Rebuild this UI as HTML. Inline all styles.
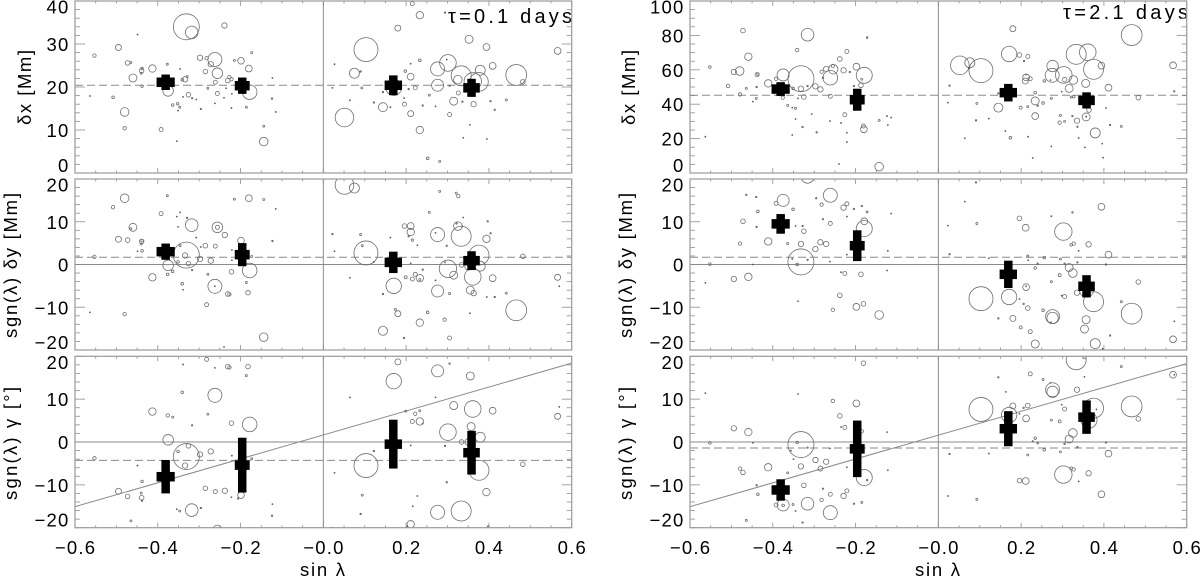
<!DOCTYPE html>
<html lang="en">
<head>
<meta charset="utf-8">
<title>Tilt and displacement versus sin latitude</title>
<style>
html,body{margin:0;padding:0;background:#fff;}
svg{display:block;}
text{font-family:"Liberation Sans",sans-serif;fill:#000;font-size:18.5px;}
text.tau{font-size:20px;}
</style>
</head>
<body>
<svg id="chart" xmlns="http://www.w3.org/2000/svg" width="1200" height="578" viewBox="0 0 1200 578">
  <rect x="0" y="0" width="1200" height="578" fill="#fff"/>
  <text class="tau" x="448" y="23" textLength="124" lengthAdjust="spacing">τ=0.1 days</text>
  <text class="tau" x="1063" y="19" textLength="125" lengthAdjust="spacing">τ=2.1 days</text>
  <text transform="translate(31,125) rotate(-90)" textLength="75" lengthAdjust="spacing">δx [Mm]</text>
  <text transform="translate(17,338) rotate(-90)" textLength="145" lengthAdjust="spacing">sgn(λ)  δy [Mm]</text>
  <text transform="translate(17,500) rotate(-90)" textLength="113" lengthAdjust="spacing">sgn(λ)  γ [°]</text>
  <text transform="translate(635,125) rotate(-90)" textLength="75" lengthAdjust="spacing">δx [Mm]</text>
  <text transform="translate(632,338) rotate(-90)" textLength="145" lengthAdjust="spacing">sgn(λ)  δy [Mm]</text>
  <text transform="translate(632,500) rotate(-90)" textLength="113" lengthAdjust="spacing">sgn(λ)  γ [°]</text>
  <text x="300" y="576" textLength="45" lengthAdjust="spacing">sin λ</text>
  <text x="915" y="576" textLength="45" lengthAdjust="spacing">sin λ</text>
</svg>
<script>
// Each point: [sin latitude, measured value, marker size]
const shortDxPoints = [[-.331,34.0,13],[-.318,32.7,6.3],[-.239,34.3,2.7],[-.449,32.2,.5],[-.553,27.3,1.7],[-.495,29.2,3],[-.473,25.6,2.3],[-.465,25.7,1],[-.173,28.0,1],[-.215,26.2,1],[-.199,26.1,3.3],[-.262,26.4,7],[-.298,26.8,2.7],[-.282,26.7,1.7],[-.272,25.3,2.7],[-.180,24.3,3.4],[-.413,24.3,3.7],[-.438,24.3,1.3],[-.439,23.8,2.3],[-.440,23.2,1],[-.377,25.3,1],[-.346,24.2,.5],[-.285,23.6,2.3],[-.256,23.2,5.3],[-.460,22.1,4],[-.261,21.1,2],[-.231,21.5,2.3],[-.227,22.3,1.7],[-.222,21.8,1.7],[-.341,21.7,1.3],[-.334,21.8,2.7],[-.329,22.4,1],[-.123,22.1,.5],[-.438,20.2,1.3],[-.279,19.7,1],[-.564,17.9,.5],[-.508,17.6,1.3],[-.375,19.1,5.3],[-.178,18.8,7.3],[-.256,18.5,2],[-.326,18.2,2.3],[-.339,17.7,.5],[-.317,17.4,.7],[-.307,17.1,.5],[-.240,17.5,.5],[-.221,18.4,.5],[-.235,19.7,.5],[-.364,15.8,1.3],[-.352,16.1,1.3],[-.347,15.3,1],[-.351,14.5,.5],[-.296,14.9,.7],[-.262,16.2,.5],[-.222,15.1,.5],[-.186,15.3,1],[-.124,17.3,.7],[-.115,14.2,.5],[-.480,14.2,4.3],[-.480,10.4,1.7],[-.392,10.1,2],[-.144,10.9,1],[-.354,7.4,.5],[-.144,7.3,4.3],
[.215,39.4,2],[.233,36.7,3.7],[.180,33.7,3],[.294,37.3,.7],[.352,31.1,4],[.394,29.3,3.4],[.566,28.4,3.4],[.103,28.7,12],[.027,25.3,.5],[.233,26.2,1.3],[.211,25.4,.5],[.301,25.6,8.3],[.298,26.4,.5],[.276,24.2,7],[.409,24.9,3.4],[.379,23.9,5],[.075,23.2,5],[.090,23.6,.7],[.198,23.7,1.3],[.211,22.4,3.4],[.333,22.6,10],[.325,21.7,4.3],[.361,21.3,8.7],[.376,21.2,9.3],[.466,22.8,10.4],[.482,21.2,2.3],[.276,20.4,6],[.170,19.9,8],[.022,19.8,.5],[.093,19.8,1],[.206,19.5,.7],[.222,19.8,2],[.144,18.8,.7],[.305,20.3,.7],[.326,18.6,2],[.256,18.1,1],[.195,17.4,.5],[.315,16.7,4],[.336,16.6,.7],[.363,16.0,2.7],[.404,16.7,.7],[.442,17.0,1],[.064,16.9,.5],[.122,16.4,.7],[.144,15.3,4.5],[.196,16.0,2],[.162,15.3,.5],[.240,15.7,.7],[.271,15.5,.5],[.414,14.7,.7],[.211,13.8,3],[.305,13.6,2],[.051,12.9,9.3],[.354,11.2,.5],[.233,10.0,3.7],[.338,8.2,.5],[.395,7.9,.5],[.252,3.4,1.3],[.281,2.7,1]];

const shortDyPoints = [[-.480,15.5,4.3],[-.508,13.4,1.7],[-.377,16.1,1],[-.215,15.3,1],[-.180,15.5,3.4],[-.144,15.2,1],[-.115,13.0,.5],[-.392,11.9,2],[-.346,12.2,.5],[-.354,11.2,.5],[-.329,10.9,.7],[-.318,9.2,6.3],[-.460,8.7,4],[-.465,8.4,1],[-.256,8.7,5.3],[-.256,8.7,2],[-.351,8.8,.5],[-.238,6.9,2.7],[-.307,6.3,.5],[-.495,5.9,3],[-.473,5.7,2.3],[-.438,5.6,1.3],[-.439,5.4,2.3],[-.440,4.8,1],[-.199,5.6,3.3],[-.123,5.5,.7],[-.285,4.4,2.3],[-.261,4.3,2],[-.346,4.4,1],[-.296,4.1,.5],[-.449,3.1,.5],[-.438,3.2,1.3],[-.221,3.4,.5],[-.331,2.2,13],[-.334,2.1,2.7],[-.553,1.8,1.7],[-.298,1.3,2.7],[-.272,.9,2.7],[-.221,1.0,.5],[-.173,1.9,1],[-.351,.6,1.3],[-.326,.2,2.3],[-.375,-.2,5.3],[-.364,-1.6,1.3],[-.376,-2.3,1.3],[-.317,-1.3,.7],[-.178,-1.4,7.3],[-.222,-1.7,2.3],[-.279,-2.3,1],[-.413,-3.0,3.7],[-.341,-4.5,1.3],[-.186,-4.2,1],[-.339,-5.9,.5],[-.262,-5.1,7],[-.262,-5.1,.5],[-.231,-6.9,2.3],[-.227,-7.0,1.7],[-.182,-6.6,2.3],[-.282,-9.4,2],[-.564,-11.2,.5],[-.480,-11.6,1.7],[-.144,-17.0,4.3],[-.240,-19.3,.5],
[.051,18.6,9.3],[.075,17.9,5],[.281,17.1,1],[.321,16.7,1],[.326,16.0,1.7],[.256,12.2,1],[.338,11.0,.5],[.397,10.1,.7],[.325,9.0,4.3],[.322,9.6,.7],[.336,8.9,.5],[.196,9.0,2.3],[.211,9.0,3.4],[.211,7.6,3.7],[.022,7.1,.7],[.090,7.0,1],[.162,6.3,.5],[.206,6.6,.7],[.271,7.4,.5],[.276,7.0,7],[.333,6.6,10],[.394,6.0,3.7],[.404,7.3,.7],[.215,5.7,1.2],[.094,4.4,1],[.227,4.5,.5],[.298,4.4,.7],[.027,3.1,.5],[.103,2.7,12],[.376,2.2,10],[.482,1.9,2.3],[.122,.6,.5],[.211,.3,.5],[.301,-1.0,8.7],[.294,.5,.5],[.334,-.1,2.3],[.379,-.4,5],[.350,-.5,3.4],[.315,-2.5,4],[.240,-1.2,.7],[.222,-2.3,2],[.199,-3.0,1.5],[.215,-3.4,2],[.233,-3.2,3.7],[.233,-3.5,1],[.064,-3.1,.5],[.361,-2.9,8.3],[.409,-3.2,3.4],[.566,-3.0,3],[.570,-5.1,.5],[.271,-3.7,.5],[.170,-5.0,7.7],[.276,-6.2,6],[.355,-6.0,4],[.363,-6.7,2.7],[.305,-6.8,1],[.144,-6.9,.7],[.442,-6.7,1],[.395,-7.6,.5],[.414,-7.6,.7],[.466,-10.7,10.4],[.174,-10.5,1],[.180,-11.5,3],[.252,-11.2,1.3],[.354,-11.4,.5],[.293,-12.9,1.7],[.233,-13.6,3.7],[.144,-15.5,4.5],[.195,-17.2,.7],[.305,-17.2,2]];

const shortGammaPoints = [[-.282,19.3,2],[-.339,18.1,.5],[-.262,17.3,.5],[-.231,17.6,2.3],[-.227,17.4,1.7],[-.182,17.6,2.3],[-.186,15.5,1],[-.341,11.6,1.3],[-.262,10.9,7],[-.413,7.1,3.7],[-.279,6.5,1],[-.376,6.2,1.7],[-.364,5.8,1],[-.222,4.4,2.3],[-.317,3.9,.7],[-.178,4.1,7.3],[-.375,.5,5.3],[-.326,-.9,2.3],[-.351,-2.2,1.3],[-.331,-3.4,13],[-.298,-2.9,2.7],[-.272,-2.2,2.7],[-.221,-3.2,.5],[-.553,-3.8,1.7],[-.173,-3.9,1],[-.334,-5.5,2.7],[-.449,-5.5,.5],[-.438,-9.2,1.3],[-.285,-10.8,2.3],[-.261,-11.6,2],[-.238,-11.4,2.7],[-.495,-11.5,3],[-.473,-12.7,2.3],[-.440,-11.9,1],[-.439,-13.0,2.3],[-.438,-13.7,.7],[-.199,-12.4,3.3],[-.222,-12.9,.5],[-.206,-13.2,.7],[-.123,-14.5,.5],[-.124,-17.2,.7],[-.318,-15.9,6.3],[-.296,-15.4,.7],[-.354,-15.7,.5],[-.347,-16.1,1],[-.465,-18.4,1],[-.256,-20.4,4.3],
[.180,18.7,3],[.305,18.3,.7],[.276,16.6,6],[.355,15.4,4],[.170,14.2,7.7],[.064,10.4,.5],[.271,10.4,.5],[.315,8.5,4],[.361,7.7,8.3],[.409,7.3,3.4],[.199,7.2,1],[.222,6.6,1.7],[.233,7.3,1],[.215,4.8,2],[.233,4.8,3.7],[.240,4.3,.5],[.566,6.0,3],[.570,8.2,.5],[.357,3.6,4],[.301,2.3,8.3],[.379,1.1,5],[.334,0,2.3],[.350,0,3.4],[.211,-.8,.5],[.294,-.9,.7],[.122,-2.1,.7],[.103,-5.5,12],[.376,-6.6,10],[.027,-7.2,.5],[.482,-5.2,2.3],[.298,-9.4,.7],[.394,-11.7,3.7],[.094,-12.4,1],[.227,-12.6,.5],[.216,-15.0,.5],[.090,-16.8,.7],[.276,-16.4,7],[.333,-16.1,10],[.211,-19.2,3.7],[.203,-19.7,.5],[.022,-20,.5],[.398,-19.7,.7]];

const longDxPoints = [[-.472,82.8,2.3],[-.316,80.4,6.3],[-.172,78.7,.8],[-.341,71.5,1.7],[-.221,70.7,2],[-.459,67.6,3.7],[-.238,66.3,2.3],[-.552,61.6,1.3],[-.198,61.8,3.4],[-.255,62.2,1.7],[-.271,60.5,2.7],[-.254,60.3,4.7],[-.494,58.7,2.7],[-.480,59.3,4.3],[-.282,58.9,1.7],[-.229,59.7,2.7],[-.214,58.7,.7],[-.438,57.2,2],[-.436,57.5,1.3],[-.179,56.8,8],[-.375,57.0,6],[-.261,55.4,7.3],[-.332,54.8,13],[-.392,54.8,1.7],[-.185,54.5,1],[-.279,55.4,.7],[-.411,52.1,3.7],[-.508,50.6,1.7],[-.297,50.4,2.7],[-.316,50.6,.7],[-.439,50.0,.7],[-.464,49.2,1],[-.351,49.2,1.3],[-.332,49.0,2.7],[-.285,48.6,2.7],[-.204,50.6,.7],[-.187,51.0,2.3],[-.479,45.7,1.7],[-.376,43.8,1.7],[-.325,44.2,2.3],[-.261,44.6,2],[-.440,43.4,1],[-.448,41.5,.5],[-.339,43.4,.5],[-.364,39.3,1],[-.345,37.6,1],[-.353,38,.5],[-.226,33.9,2],[-.306,34.3,.5],[-.345,31.4,.5],[-.262,30.2,.5],[-.235,29.1,.5],[-.181,27.3,2],[-.180,25.4,3.4],[-.143,30.6,1],[-.124,33.1,.5],[-.114,32.2,.5],[-.122,27.9,.5],[-.328,26.7,.7],[-.353,22.1,.5],[-.294,23.6,.7],[-.221,23.4,.5],[-.221,18.0,.5],[-.563,21.1,.5],[-.240,5.2,.5],[-.143,3.7,4.3],
[.467,80.2,10.4],[.180,83.9,3],[.333,69,10],[.361,70.2,8.3],[.171,69.2,7.7],[.196,68.6,2.3],[.216,67.8,2],[.207,65.1,.7],[.052,62.6,9.3],[.076,64.1,5],[.103,59.5,12],[.074,61,.7],[.394,62.4,3.4],[.567,62.6,3.4],[.375,60.3,10],[.276,62.2,5.7],[.275,56.8,7],[.303,57.0,8.3],[.212,57.2,.5],[.212,55.6,3.4],[.210,53.5,3],[.222,54.8,2],[.271,54,.5],[.256,53.5,1.3],[.305,54.3,2.3],[.326,54.1,4.3],[.356,52.1,4],[.027,50.8,.7],[.411,49.6,3.4],[.316,49.2,4],[.298,47.3,.5],[.234,46.7,1.3],[.145,46.3,.7],[.570,47.5,.7],[.327,44.4,1.3],[.321,44.2,1],[.483,43.8,2.3],[.273,43.4,1],[.234,41.9,4],[.023,40.9,.5],[.093,40.5,1],[.253,40.7,1.3],[.240,39.1,.7],[.216,38.6,1],[.199,38,1.5],[.145,38,4.5],[.364,36.6,2.3],[.405,37.8,.5],[.357,32.6,4],[.357,32.8,.5],[.234,33.1,3.4],[.295,33.5,1],[.324,33.1,.7],[.091,30.6,.7],[.122,31.6,.5],[.335,30.4,2.7],[.293,29.3,1.7],[.305,30,1],[.336,26.9,.7],[.415,27.9,.7],[.442,27.1,1],[.162,24.4,.5],[.379,23.3,5],[.174,20.5,1.3],[.217,21.1,.5],[.064,20.2,.5],[.339,20.3,.5],[.396,17.1,.5],[.273,15.5,.5],[.354,14.9,.5],[.398,8.9,.5],[.228,8.7,.5]];

const longDyPoints = [[-.316,20.5,6.3],[-.261,16.2,7],[-.464,16.3,.7],[-.440,15.8,.7],[-.375,15.0,6],[-.392,14.3,2],[-.295,15.5,.7],[-.282,14.0,1.7],[-.229,13.3,2.7],[-.221,14.2,2],[-.204,13.0,.7],[-.185,13.7,.7],[-.172,12.3,1],[-.436,12.4,1.3],[-.351,12.9,1.3],[-.221,11.2,.5],[-.114,11.9,.5],[-.279,10.6,.7],[-.472,10.1,2.3],[-.261,9.6,2],[-.179,10.1,3.4],[-.179,8.4,8],[-.439,8.8,.7],[-.345,9,.5],[-.328,9,.7],[-.325,7.8,2.3],[-.411,5.4,3.7],[-.479,4.9,1.7],[-.364,4.9,1],[-.332,4.8,2.7],[-.285,5.2,2.7],[-.271,4.8,2.7],[-.297,3.6,2.7],[-.122,3.2,.5],[-.221,2.3,.5],[-.332,.6,13],[-.341,0,1.3],[-.316,1.1,.7],[-.353,1.3,.5],[-.552,.1,1.3],[-.262,.7,.5],[-.448,0,.5],[-.124,-1.4,.5],[-.235,-1.8,.5],[-.226,-2.1,2],[-.187,-2.3,2.3],[-.459,-2.9,3.7],[-.494,-3.4,2.7],[-.563,-4.3,.5],[-.238,-7.2,2.3],[-.339,-8.6,.5],[-.181,-9.2,2.3],[-.198,-9.9,3.4],[-.255,-10.6,1.7],[-.143,-11.8,4.3],
[.091,19.2,.7],[.394,13.5,3.4],[.064,14.7,.5],[.196,10.8,2.3],[.324,12.2,.7],[.273,11.3,.5],[.093,9.6,1],[.023,9.1,.5],[.211,8.6,3.4],[.302,7.7,8.7],[.321,4.6,1.3],[.327,4.9,1.7],[.363,4.7,2.7],[.339,3.2,.5],[.411,2.3,3.4],[.027,2.4,.7],[.216,2,1],[.122,1.5,.5],[.256,1.6,1.3],[.295,1.3,1],[.217,1,.5],[.336,.5,.7],[.405,0,.7],[.305,.2,.7],[.240,.2,.7],[.316,-.7,4],[.325,-2,4.3],[.234,-.8,1.3],[.293,-2.5,1.5],[.273,-4,1],[.483,-4.1,2.3],[.212,-5.3,3.4],[.212,-5.1,.5],[.335,-6.6,2.7],[.358,-6,7],[.375,-8.7,10],[.305,-7.5,2],[.298,-7.3,.5],[.171,-7.6,7.7],[.103,-8,12],[.196,-8.1,.5],[.442,-8.7,1],[.206,-9.2,.7],[.216,-10.2,2.3],[.253,-10.7,1.3],[.467,-11.5,10.4],[.276,-12.2,7],[.276,-12.5,5.7],[.272,-13.5,.5],[.180,-12.6,3],[.145,-12.6,.7],[.357,-12.9,4],[.570,-13.3,.5],[.199,-14.7,1.5],[.353,-15.1,4],[.222,-15.7,2],[.567,-17.5,3.4],[.415,-16.6,.7],[.234,-18.6,4],[.379,-18.5,5],[.397,-19.7,.5]];

const longGammaPoints = [[-.181,18.4,2.3],[-.563,11.4,.5],[-.339,11.2,.5],[-.255,9.6,1.7],[-.198,9.0,3.4],[-.238,6.1,2.3],[-.494,3.2,2.7],[-.459,2.3,3.7],[-.226,3.4,2],[-.235,3.5,.5],[-.185,2.5,1.7],[-.124,2.3,.5],[-.552,-.2,1.3],[-.448,-.2,.5],[-.332,-.6,13],[-.341,-.1,1.3],[-.316,-1.3,.7],[-.356,-2,.5],[-.262,-1.5,.5],[-.350,-4,.5],[-.297,-4.2,2.7],[-.271,-4.6,2.7],[-.332,-5.7,2.7],[-.411,-5.9,3.7],[-.285,-6.2,2.5],[-.221,-5.9,.5],[-.479,-6.2,1.7],[-.472,-7.1,2.3],[-.364,-7.2,1],[-.122,-6.6,.5],[-.179,-8.3,8],[-.172,-8.9,.7],[-.325,-10.1,2.3],[-.439,-10.1,.7],[-.279,-10.9,.7],[-.221,-11.4,2],[-.229,-12.6,2.7],[-.261,-12.2,2],[-.436,-12.2,1.3],[-.282,-13.5,1.7],[-.316,-14.4,6.3],[-.375,-14.7,6],[-.392,-14.7,2],[-.375,-14.8,1.3],[-.351,-14.6,1],[-.204,-14.4,.7],[-.185,-14.1,1],[-.345,-16.1,.5],[-.261,-16.5,7],[-.464,-18.3,1],[-.328,-18.8,.7],
[.442,17.6,1],[.222,15.9,2],[.145,15.1,.7],[.253,14.6,1],[.271,13.8,.5],[.567,15.7,3.4],[.570,15.7,.5],[.353,15.2,.5],[.276,12.2,7],[.276,11.7,5.7],[.335,12.2,2.7],[.163,11.7,.5],[.467,8.3,10.4],[.103,7.6,12],[.375,7.9,10],[.180,8.4,3],[.216,8.5,2.3],[.206,8,.7],[.171,6.3,7.7],[.196,6.6,.5],[.298,8.7,.5],[.305,7.7,2],[.382,7.6,.5],[.364,5.1,8],[.483,5.4,2.3],[.212,5.5,3.4],[.273,5.1,1],[.293,4.8,1.5],[.325,2.1,4.3],[.316,.7,4],[.234,.9,1.3],[.240,-.3,.7],[.228,.2,.5],[.305,-.4,.8],[.405,-.1,.7],[.336,-1.2,.7],[.256,-1.8,1.3],[.295,-2.3,1],[.411,-2.7,3.4],[.027,-2.8,.7],[.122,-2.7,.5],[.216,-3,1],[.321,-6.1,1.3],[.327,-6.4,1.7],[.302,-7.6,8.7],[.363,-7.3,2.7],[.196,-9,2.3],[.211,-9.1,3.4],[.339,-9.2,.5],[.394,-12.2,3.4],[.023,-12.6,.5],[.093,-13.4,1],[.333,19.2,10],[.353,19.8,1.7]];

// Binned averages (black crosses)
const binSinLat = [-0.381, -0.196, 0.169, 0.358];
const binSinLatErr = [0.022, 0.018, 0.021, 0.020];
const shortDxMeans = [21.1, 20.3, 20.4, 19.8];
const shortDxErrs = [1.8, 1.9, 2.3, 2.1];
const shortDyMeans = [3.0, 2.3, 0.5, 0.9];
const shortDyErrs = [1.9, 2.7, 2.5, 2.2];
const shortGammaMeans = [-8.1, -5.4, -0.5, -2.5];
const shortGammaErrs = [3.9, 6.4, 5.7, 5.1];
const longDxMeans = [48.8, 42.6, 46.7, 42.2];
const longDxErrs = [4.0, 6.4, 5.1, 4.7];
const longDyMeans = [9.5, 4.4, -2.3, -5.1];
const longDyErrs = [2.3, 3.6, 3.2, 2.6];
const longGammaMeans = [-11.2, -1.6, 3.1, 5.8];
const longGammaErrs = [2.5, 6.6, 4.1, 3.9];

// Reference levels (dashed lines)
const shortDxRef = 20.4;
const shortDyRef = 1.7;
const shortGammaRef = -4.3;
const longDxRef = 45.2;
const longDyRef = 1.7;
const longGammaRef = -1.4;

// Fit lines: values at the two ends of the x range
const shortGammaFit = [-15.1, 18.4];
const longGammaFit = [-15.1, 18.3];

// Axis ticks
const xDomain = [-0.6, 0.6];
const xTickValues = [-0.6, -0.4, -0.2, 0, 0.2, 0.4, 0.6];
const xTickLabels = ['\u22120.6', '\u22120.4', '\u22120.2', '\u22120.0', '0.2', '0.4', '0.6'];
const shortDxTicks = [0, 10, 20, 30, 40];
const longDxTicks = [0, 20, 40, 60, 80, 100];
const signedTicks = [-20, -10, 0, 10, 20];
const signedTickLabels = ['\u221220', '\u221210', '0', '10', '20'];

const svg = document.getElementById('chart');
const NS = 'http://www.w3.org/2000/svg';
const LINE = '#8a8a8a';
const FRAME = '#9a9a9a';

function make(tag, attrs, parent) {
  const el = document.createElementNS(NS, tag);
  for (const k in attrs) el.setAttribute(k, attrs[k]);
  parent.appendChild(el);
  return el;
}

function drawLine(parent, x1, y1, x2, y2, color, width, dash) {
  const el = make('line', {x1: x1, y1: y1, x2: x2, y2: y2, stroke: color, 'stroke-width': width}, parent);
  if (dash) el.setAttribute('stroke-dasharray', dash);
  return el;
}

function drawPanel(cfg) {
  const sx = v => cfg.left + (v - xDomain[0]) / (xDomain[1] - xDomain[0]) * (cfg.right - cfg.left);
  const sy = v => cfg.bottom - (v - cfg.domain[0]) / (cfg.domain[1] - cfg.domain[0]) * (cfg.bottom - cfg.top);

  const group = make('g', {}, svg);
  
  

  const clip = make('clipPath', {id: 'clip-' + cfg.name}, group);
  make('rect', {x: cfg.left, y: cfg.top, width: cfg.right - cfg.left, height: cfg.bottom - cfg.top}, clip);

  // y ticks (both sides)
  const minorCount = Math.round((cfg.domain[1] - cfg.domain[0]) / cfg.minorStep);
  for (let i = 0; i <= minorCount; i++) {
    const v = cfg.domain[0] + i * cfg.minorStep;
    const isMajor = cfg.ticks.includes(Math.round(v * 1000) / 1000);
    const len = isMajor ? 10 : 5;
    const tickL = drawLine(group, cfg.left, sy(v), cfg.left + len, sy(v), FRAME, 0.9);
    
    
    const tickR = drawLine(group, cfg.right - len, sy(v), cfg.right, sy(v), FRAME, 0.9);
    
    
  }

  // y tick labels
  cfg.ticks.forEach((v, i) => {
    let base = sy(v) + 7;
    if (v === cfg.domain[1]) base = sy(v) + 12.5;
    if (v === cfg.domain[0]) base = sy(v) - 1;
    const label = make('text', {x: cfg.left - 5.5, y: base, 'text-anchor': 'end', 'letter-spacing': '1.2'}, group);
    label.textContent = cfg.tickLabels[i];
    
    
  });

  // x ticks (top and bottom)
  const xMinorCount = Math.round((xDomain[1] - xDomain[0]) / 0.05);
  for (let i = 0; i <= xMinorCount; i++) {
    const v = xDomain[0] + i * 0.05;
    const len = i % 4 === 0 ? 5 : 2.5;
    const tickB = drawLine(group, sx(v), cfg.bottom, sx(v), cfg.bottom - len, FRAME, 0.9);
    
    
    const tickT = drawLine(group, sx(v), cfg.top, sx(v), cfg.top + len, FRAME, 0.9);
    
    
  }

  if (cfg.showXLabels) {
    xTickValues.forEach((v, i) => {
      const label = make('text', {x: sx(v) + 0.6, y: 554, 'text-anchor': 'middle', 'letter-spacing': '1.2'}, group);
      label.textContent = xTickLabels[i];
      
      
    });
  }

  const marks = make('g', {'clip-path': 'url(#clip-' + cfg.name + ')'}, group);
  
  

  // reference lines
  const zeroX = drawLine(marks, sx(0), cfg.top, sx(0), cfg.bottom, LINE, 1);
  
  
  if (cfg.domain[0] < 0) {
    const zeroY = drawLine(marks, cfg.left, sy(0), cfg.right, sy(0), LINE, 1);
    
    
  }
  const ref = drawLine(marks, cfg.left, sy(cfg.ref), cfg.right, sy(cfg.ref), LINE, 1, '8 4');
  
  
  if (cfg.fit) {
    const fit = drawLine(marks, sx(xDomain[0]), sy(cfg.fit[0]), sx(xDomain[1]), sy(cfg.fit[1]), LINE, 1);
    
    
  }

  // scatter circles
  cfg.points.forEach(p => {
    const c = make('circle', {cx: sx(p[0]), cy: sy(p[1]), r: p[2], fill: 'none', stroke: p[2] < 1 ? '#555' : '#6e6e6e', 'stroke-width': 0.8}, marks);
    
    
  });

  // binned crosses
  binSinLat.forEach((x, i) => {
    const m = cfg.means[i];
    const e = cfg.errs[i];
    const vBar = make('rect', {x: sx(x) - 4.25, y: sy(m + e), width: 8.5, height: sy(m - e) - sy(m + e), fill: '#000'}, marks);
    
    
    const xe = binSinLatErr[i];
    const hBar = make('rect', {x: sx(x - xe), y: sy(m) - 4.75, width: sx(x + xe) - sx(x - xe), height: 9.5, fill: '#000'}, marks);
    
    
  });

  // frame
  const frame = make('rect', {x: cfg.left, y: cfg.top, width: cfg.right - cfg.left, height: cfg.bottom - cfg.top, fill: 'none', stroke: FRAME, 'stroke-width': 1.2}, group);
  
  
}

const leftCol = {left: 75, right: 571.7};
const rightCol = {left: 690, right: 1186.7};
const row1 = {top: 1, bottom: 173};
const row2 = {top: 179, bottom: 350};
const row3 = {top: 356.3, bottom: 527.7};

drawPanel({name: 'panel-dx-short', left: leftCol.left, right: leftCol.right, top: row1.top, bottom: row1.bottom, domain: [0, 40], ticks: shortDxTicks, tickLabels: shortDxTicks.map(String), minorStep: 2, points: shortDxPoints, means: shortDxMeans, errs: shortDxErrs, ref: shortDxRef, showXLabels: false});
drawPanel({name: 'panel-dy-short', left: leftCol.left, right: leftCol.right, top: row2.top, bottom: row2.bottom, domain: [-20, 20], ticks: signedTicks, tickLabels: signedTickLabels, minorStep: 2, points: shortDyPoints, means: shortDyMeans, errs: shortDyErrs, ref: shortDyRef, showXLabels: false});
drawPanel({name: 'panel-gamma-short', left: leftCol.left, right: leftCol.right, top: row3.top, bottom: row3.bottom, domain: [-20, 20], ticks: signedTicks, tickLabels: signedTickLabels, minorStep: 2, points: shortGammaPoints, means: shortGammaMeans, errs: shortGammaErrs, ref: shortGammaRef, fit: shortGammaFit, showXLabels: true});
drawPanel({name: 'panel-dx-long', left: rightCol.left, right: rightCol.right, top: row1.top, bottom: row1.bottom, domain: [0, 100], ticks: longDxTicks, tickLabels: longDxTicks.map(String), minorStep: 5, points: longDxPoints, means: longDxMeans, errs: longDxErrs, ref: longDxRef, showXLabels: false});
drawPanel({name: 'panel-dy-long', left: rightCol.left, right: rightCol.right, top: row2.top, bottom: row2.bottom, domain: [-20, 20], ticks: signedTicks, tickLabels: signedTickLabels, minorStep: 2, points: longDyPoints, means: longDyMeans, errs: longDyErrs, ref: longDyRef, showXLabels: false});
drawPanel({name: 'panel-gamma-long', left: rightCol.left, right: rightCol.right, top: row3.top, bottom: row3.bottom, domain: [-20, 20], ticks: signedTicks, tickLabels: signedTickLabels, minorStep: 2, points: longGammaPoints, means: longGammaMeans, errs: longGammaErrs, ref: longGammaRef, fit: longGammaFit, showXLabels: true});
</script>
</body>
</html>
